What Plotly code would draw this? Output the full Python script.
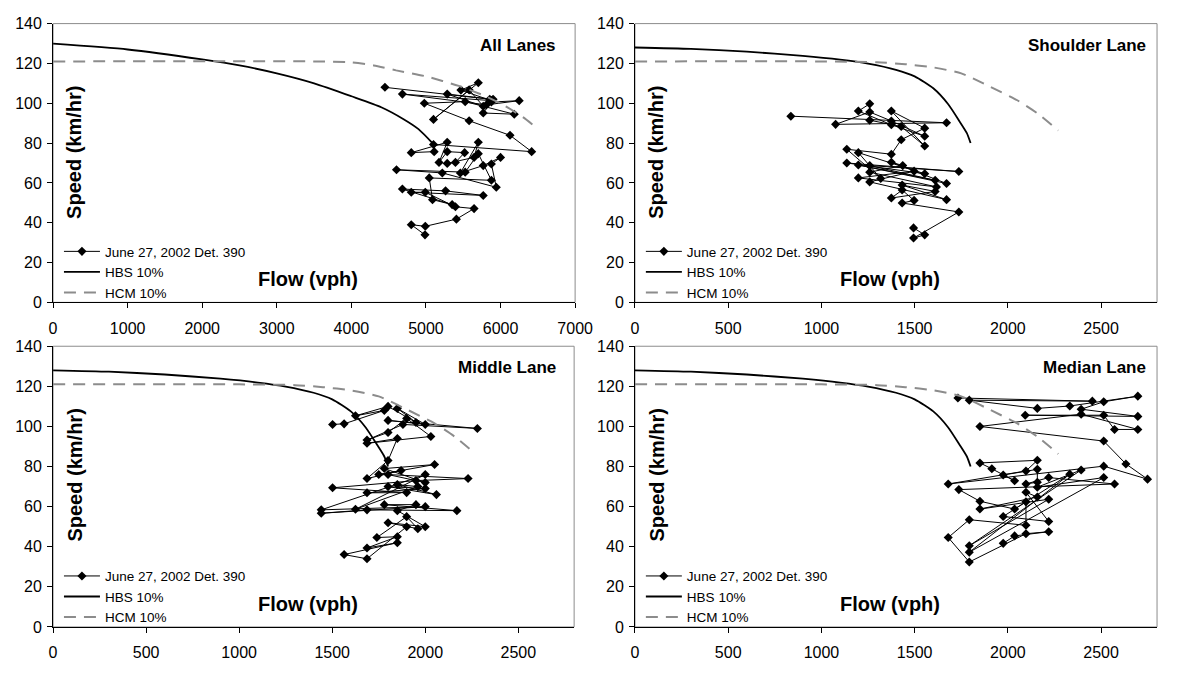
import plotly.graph_objects as go

W, H = 1177, 673
FONT = "Liberation Sans, Arial, sans-serif"

# ---------------- model curves ----------------
ALL_HBS_Q = [0, 1000, 2000, 2500, 3000, 3500, 4000, 4400, 4700, 4900, 5100]
ALL_HBS_V = [129.9, 127, 122, 119, 115, 110, 103.5, 98, 92, 87, 79.5]
ALL_HCM_Q = [0, 3500, 4000, 4300, 4600, 5000, 5440, 5800, 6050, 6300, 6490]
ALL_HCM_V = [121, 121, 120.5, 119, 116.5, 113.5, 108.7, 103.5, 98.9, 93, 87.5]

LANE_HBS_Q = [0, 300, 600, 900, 1100, 1250, 1400, 1500, 1600, 1680, 1740, 1780, 1800]
LANE_HBS_V = [128, 127.3, 125.9, 123.8, 121.9, 119.9, 116.8, 113.5, 107.5, 99.5, 91, 85, 80]
LANE_HCM_Q = [0, 1000, 1300, 1450, 1600, 1750, 1900, 2050, 2160, 2270]
LANE_HCM_V = [121, 121, 120.6, 119.6, 118, 115, 108.5, 101.5, 94.8, 86.3]

# ---------------- detector data (flow vph, speed km/hr) ----------------
ALL_Q = [4450, 5855, 5877, 6250, 5811, 4684, 5877, 5469, 5702, 5101, 5579, 5768, 5285, 5900,
         5768, 6184, 5526, 4978, 5579, 6127, 6417, 5101, 5110, 4803, 5285, 5175, 5285, 5518,
         5395, 5285, 5645, 5702, 5461, 5768, 6000, 5877, 5943, 5219, 4605, 5526, 5702, 5877,
         5044, 5088, 5351, 4684, 5263, 5768, 4803, 4991, 5395, 5645, 5408, 4991, 4803, 4987]
ALL_V = [108, 102, 100.6, 101.3, 99.2, 104.6, 101.3, 106.6, 110.3, 91.9, 106.7, 98.5, 104.6, 102,
         95.1, 94.5, 100.8, 100.0, 91.2, 83.9, 75.7, 79.3, 75.7, 75.2, 80.4, 70.3, 75.7, 75.2,
         70.3, 69.8, 72.8, 80.4, 65.0, 68.7, 72.8, 69.5, 57.8, 65.0, 66.6, 65.4, 74.7, 61.3,
         62.5, 51.6, 49.1, 56.9, 56.0, 53.7, 55.3, 55.3, 48.0, 47.1, 41.8, 38.2, 39.0, 33.9]

SH_Q = [836, 1671, 1076, 1259, 1375, 1554, 1375, 1198, 1259, 1259, 1428, 1554, 1375, 1554,
        1428, 1375, 1136, 1318, 1198, 1554, 1136, 1737, 1259, 1610, 1198, 1671, 1375, 1436,
        1259, 1617, 1198, 1497, 1259, 1671, 1433, 1610, 1375, 1433, 1497, 1433, 1737, 1494,
        1554, 1494]
SH_V = [93.5, 90.2, 89.4, 95.6, 91.1, 83.4, 89.2, 96.1, 99.7, 91.5, 88.3, 78.5, 96.1, 87.5,
        81.7, 74.4, 76.9, 62.2, 75.2, 64.6, 70.0, 65.7, 68.7, 61.3, 69.0, 59.7, 70.4, 68.7,
        65.4, 58.0, 62.5, 65.9, 60.5, 51.6, 58.9, 55.7, 52.4, 56.4, 51.2, 49.9, 45.4, 32.3,
        33.9, 37.4]

MI_Q = [1502, 1564, 1780, 1625, 1800, 1950, 1850, 2000, 1800, 2280, 1880, 1687, 1800, 1900,
        2030, 1687, 1850, 1800, 1687, 1870, 1750, 2050, 1780, 2000, 1800, 2230, 1950, 1502,
        1900, 1687, 2000, 1800, 2060, 1850, 1960, 1625, 2000, 1441, 2000, 1441, 1687, 2170,
        1780, 1950, 1850, 2000, 1800, 1960, 1900, 1740, 1850, 1687, 1850, 1564, 1687, 1900]
MI_V = [101, 101.3, 108, 105.3, 110, 102, 109, 101, 103, 99, 101, 93.2, 97, 104,
        95, 91.6, 94, 83, 74.0, 78, 76, 81, 79, 72, 76, 74, 73, 69.4,
        67, 66.9, 69, 70, 66, 71, 70, 58.7, 76, 58.4, 60, 56.7, 58.4, 58,
        61, 61, 58, 50, 52, 49, 55, 44.6, 45, 39.4, 42, 36.1, 34.0, 50]

ME_Q = [1732, 2453, 1793, 2158, 2332, 2697, 2514, 2393, 2697, 2093, 2514, 2572, 2697, 2393,
        1850, 2514, 2633, 2749, 2514, 1680, 2097, 2158, 1850, 1914, 2036, 1975, 2158, 2158,
        2097, 2219, 2572, 1737, 1850, 2036, 2332, 1793, 2514, 2158, 2393, 1793, 2219, 1850,
        2158, 2097, 2219, 1975, 2097, 2097, 1793, 1680, 1793, 2097, 2219, 2036, 1975]
ME_V = [114.2, 112.6, 113.1, 109.0, 110.2, 115.1, 112.3, 108.6, 105.0, 105.6, 105.6, 98.5, 98.5, 106.1,
        100.0, 92.7, 81.3, 73.7, 80.2, 71.3, 77.8, 83.1, 81.8, 78.9, 72.9, 75.8, 78.6, 72.2,
        71.3, 74.5, 71.3, 68.5, 62.7, 58.8, 76.2, 37.3, 74.5, 69.7, 78.3, 40.5, 63.7, 58.8,
        64.8, 67.2, 52.6, 55.1, 62.4, 50.7, 53.5, 44.6, 32.4, 46.5, 47.5, 45.4, 41.7]

PANEL_TITLES = ["All Lanes", "Shoulder Lane", "Middle Lane", "Median Lane"]
SERIES_NAMES = ["June 27, 2002 Det. 390", "HBS 10%", "HCM 10%"]
Y_TICKS = [0, 20, 40, 60, 80, 100, 120, 140]
X_TICKS_ALL = [0, 1000, 2000, 3000, 4000, 5000, 6000, 7000]
X_TICKS_LANE = [0, 500, 1000, 1500, 2000, 2500]


def px(xp):
    return xp / W


def py(yp):
    return 1 - yp / H


panels = [
    dict(data=(ALL_Q, ALL_V), hbs=(ALL_HBS_Q, ALL_HBS_V), hcm=(ALL_HCM_Q, ALL_HCM_V),
         xr=[0, 7000], xt=X_TICKS_ALL, xd=[50, 582], yd=[16, 302], tr=565),
    dict(data=(SH_Q, SH_V), hbs=(LANE_HBS_Q, LANE_HBS_V), hcm=(LANE_HCM_Q, LANE_HCM_V),
         xr=[0, 2800], xt=X_TICKS_LANE, xd=[643, 1175], yd=[16, 302], tr=1166),
    dict(data=(MI_Q, MI_V), hbs=(LANE_HBS_Q, LANE_HBS_V), hcm=(LANE_HCM_Q, LANE_HCM_V),
         xr=[0, 2800], xt=X_TICKS_LANE, xd=[50, 581], yd=[347, 635], tr=565),
    dict(data=(ME_Q, ME_V), hbs=(LANE_HBS_Q, LANE_HBS_V), hcm=(LANE_HCM_Q, LANE_HCM_V),
         xr=[0, 2800], xt=X_TICKS_LANE, xd=[643, 1175], yd=[347, 635], tr=1166),
]

fig = go.Figure()
layout = dict(
    width=W, height=H, margin=dict(l=0, r=0, t=0, b=0),
    paper_bgcolor="white", plot_bgcolor="white",
    font=dict(family=FONT, color="black"),
    showlegend=True, shapes=[], annotations=[],
)

for i, p in enumerate(panels):
    k = "" if i == 0 else str(i + 1)
    xa, ya = "x" + k, "y" + k
    lg = "legend" + k
    fig.add_trace(go.Scatter(
        x=p["data"][0], y=p["data"][1], mode="lines+markers", name=SERIES_NAMES[0],
        xaxis=xa, yaxis=ya, legend=lg,
        line=dict(color="black", width=1),
        marker=dict(symbol="diamond", size=7, color="black")))
    fig.add_trace(go.Scatter(
        x=p["hbs"][0], y=p["hbs"][1], mode="lines", name=SERIES_NAMES[1],
        xaxis=xa, yaxis=ya, legend=lg,
        line=dict(color="black", width=1.8, shape="spline", smoothing=0.6)))
    fig.add_trace(go.Scatter(
        x=p["hcm"][0], y=p["hcm"][1], mode="lines", name=SERIES_NAMES[2],
        xaxis=xa, yaxis=ya, legend=lg,
        line=dict(color="#8c8c8c", width=2, dash="12px,8px", shape="spline", smoothing=0.6)))

    x0, x1 = p["xd"]
    y0, y1 = p["yd"]
    layout["xaxis" + k] = dict(
        domain=[px(x0), px(x1)], anchor=ya, range=p["xr"], tickvals=p["xt"],
        showgrid=False, zeroline=False, showline=True, linecolor="black", linewidth=1,
        ticks="outside", ticklen=5, tickcolor="black", tickfont=dict(size=16),
        ticklabelstandoff=6)
    layout["yaxis" + k] = dict(
        domain=[py(y1), py(y0)], anchor=xa, range=[0, 140], tickvals=Y_TICKS,
        showgrid=False, zeroline=False, showline=True, linecolor="black", linewidth=1,
        ticks="outside", ticklen=5, tickcolor="black", tickfont=dict(size=16),
        ticklabelstandoff=2)
    layout["shapes"].append(dict(
        type="rect", xref=xa + " domain", yref=ya + " domain", x0=0, x1=1, y0=0, y1=1,
        line=dict(color="#8c8c8c", width=1), layer="below"))
    layout[lg] = dict(
        x=px(x0 + 6), y=py(y1 - 68), xanchor="left", yanchor="top",
        bgcolor="rgba(0,0,0,0)", font=dict(size=13.5, family=FONT, color="black"),
        tracegroupgap=0, itemwidth=36)
    # panel title
    layout["annotations"].append(dict(
        text="<b>%s</b>" % PANEL_TITLES[i], xref="paper", yref="paper",
        x=px(p["tr"]), y=py(y0 + 22), xanchor="right", yanchor="middle",
        showarrow=False, font=dict(size=17, family=FONT, color="black")))
    # axis titles
    layout["annotations"].append(dict(
        text="<b>Flow (vph)</b>", xref="paper", yref="paper",
        x=px(x0 + 260), y=py(y1 - 24), xanchor="center", yanchor="middle",
        showarrow=False, font=dict(size=20, family=FONT, color="black")))
    layout["annotations"].append(dict(
        text="<b>Speed (km/hr)</b>", xref="paper", yref="paper",
        x=px(x0 + 22), y=py(y0 + 132), xanchor="center", yanchor="middle", textangle=-90,
        showarrow=False, font=dict(size=20, family=FONT, color="black")))

fig.update_layout(**layout)
fig.write_html("out.html")
